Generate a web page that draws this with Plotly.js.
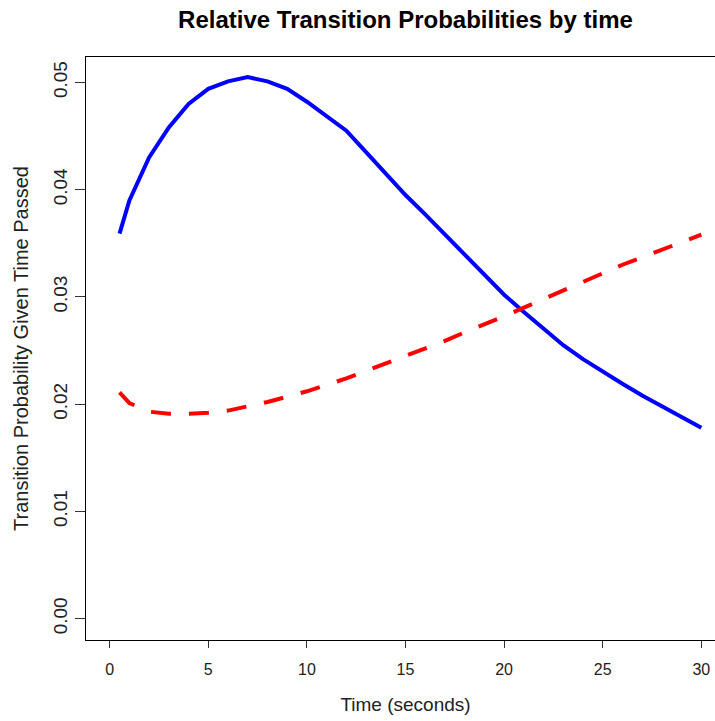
<!DOCTYPE html>
<html>
<head>
<meta charset="utf-8">
<script src="https://cdn.plot.ly/plotly-3.0.1.min.js"></script>
<style>
html, body { margin: 0; padding: 0; overflow: hidden; background: #fff; }
#chart { width: 725px; height: 721px; }
</style>
</head>
<body>
<div id="chart"></div>
<script>
// Time points (seconds)
const timeSeconds = [0.5, 1, 2, 3, 4, 5, 6, 7, 8, 9, 10, 11, 12, 13, 14, 15, 16, 17, 18, 19, 20, 21, 22, 23, 24, 25, 26, 27, 28, 29, 30];
// Blue solid series
const blueSeries = [0.0359, 0.0390, 0.0430, 0.0458, 0.0480, 0.0494, 0.0501, 0.0505, 0.0501, 0.0494, 0.0482, 0.0469, 0.0455, 0.0435, 0.0415, 0.0395, 0.0377, 0.0358, 0.0339, 0.0320, 0.0302, 0.0286, 0.0270, 0.0255, 0.0242, 0.0230, 0.0219, 0.0208, 0.0198, 0.0188, 0.0178];
// Red dashed series
const redSeries = [0.0211, 0.0201, 0.0193, 0.0191, 0.0191, 0.0192, 0.0194, 0.0198, 0.0202, 0.0207, 0.0212, 0.0218, 0.0224, 0.0231, 0.0238, 0.0245, 0.0252, 0.0259, 0.0267, 0.0274, 0.0282, 0.0290, 0.0298, 0.0306, 0.0314, 0.0323, 0.0330, 0.0337, 0.0344, 0.0351, 0.0358];
// Tick labels
const xTickVals = [0, 5, 10, 15, 20, 25, 30];
const yTickVals = [0, 0.01, 0.02, 0.03, 0.04, 0.05];
const yTickText = ["0.00", "0.01", "0.02", "0.03", "0.04", "0.05"];

const traces = [
  {
    x: timeSeconds, y: blueSeries, type: 'scatter', mode: 'lines',
    line: { color: '#0000ff', width: 4 }, hoverinfo: 'skip'
  },
  {
    x: timeSeconds, y: redSeries, type: 'scatter', mode: 'lines',
    line: { color: '#ff0000', width: 4, dash: '20px,18px' }, hoverinfo: 'skip'
  }
];

const layout = {
  width: 725, height: 721,
  margin: { l: 86, r: 0, t: 57, b: 81 },
  paper_bgcolor: '#ffffff', plot_bgcolor: '#ffffff',
  showlegend: false,
  font: { family: 'Liberation Sans, Arial, sans-serif', color: '#222' },
  title: {
    text: '<b>Relative Transition Probabilities by time</b>',
    font: { family: 'Liberation Sans, Arial, sans-serif', size: 24, color: '#000' },
    xref: 'paper', x: 0.5, xanchor: 'center',
    yref: 'container', y: 1 - 20 / 721, yanchor: 'middle'
  },
  xaxis: {
    range: [-1.2, 31.2],
    tickvals: xTickVals, ticktext: xTickVals.map(String),
    ticks: 'outside', ticklen: 7, tickwidth: 1, tickcolor: '#333',
    tickfont: { family: 'Liberation Sans Narrow, Arial Narrow, Liberation Sans, sans-serif', size: 16, color: '#222' },
    ticklabelstandoff: 8,
    showline: true, linecolor: '#000', linewidth: 1, mirror: true,
    showgrid: false, zeroline: false,
    title: { text: 'Time (seconds)', font: { size: 19, color: '#222' }, standoff: 20 },
    automargin: false
  },
  yaxis: {
    range: [-0.00199, 0.05237],
    tickvals: yTickVals, ticktext: yTickText,
    tickangle: -90,
    ticks: 'outside', ticklen: 10, tickwidth: 1, tickcolor: '#333',
    tickfont: { size: 19, color: '#222' },
    showline: true, linecolor: '#000', linewidth: 1, mirror: true,
    showgrid: false, zeroline: false,
    title: { text: 'Transition Probability Given Time Passed', font: { size: 20, color: '#222' }, standoff: 16 },
    automargin: false
  }
};

Plotly.newPlot('chart', traces, layout, { staticPlot: true, displayModeBar: false });
</script>
</body>
</html>
